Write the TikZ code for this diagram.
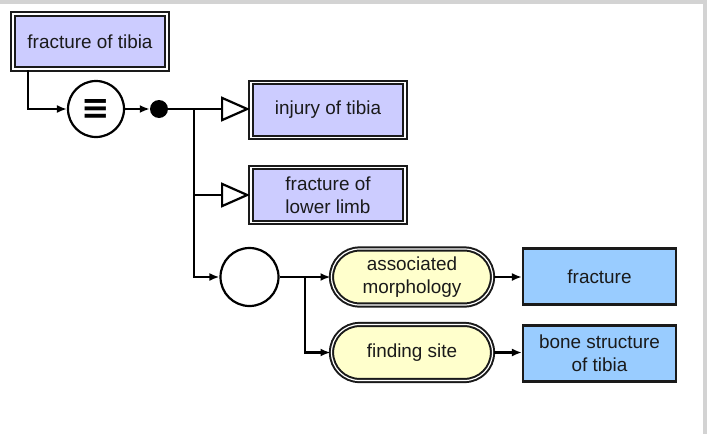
\documentclass[tikz,border=0pt]{standalone}
\usepackage{fontspec}
\setmainfont{Liberation Sans}
\newfontfamily\symfont{DejaVu Sans}
\usetikzlibrary{arrows.meta,shapes.misc}
\definecolor{lav}{HTML}{CCCCFF}
\definecolor{pale}{HTML}{FFFFCC}
\definecolor{sky}{HTML}{99CCFF}
\definecolor{frame}{HTML}{D3D3D3}
\definecolor{ink}{HTML}{1A1A1A}
\begin{document}
\begin{tikzpicture}[x=1pt,y=-1pt,
  txt/.style={font=\fontsize{18.9}{23}\selectfont, text=ink, align=center, inner sep=0pt},
  concept/.style={txt, rectangle, fill=lav, draw=ink, double=white, double distance=1.2pt, line width=2pt, minimum width=154pt, minimum height=55pt},
  role/.style={txt, rounded rectangle, fill=pale, draw=ink, double=white, double distance=1.2pt, line width=2pt, minimum width=161pt, minimum height=56pt},
  value/.style={txt, rectangle, fill=sky, draw=ink, line width=2.2pt, minimum width=153pt, minimum height=56pt},
  conn/.style={line width=2.2pt, draw=black},
  arr/.style={conn, -{Latex[length=10pt,width=8pt]}},
  isa/.style={conn, -{Triangle[open, length=29pt, width=25pt, line width=2.2pt]}},
]
\useasboundingbox (0,0) rectangle (707,434);
\fill[frame] (0,0) rectangle (707,4);
\fill[frame] (703,0) rectangle (707,434);

\node[concept] (ft) at (90,41.5) {fracture of tibia};
\node[circle, draw=black, line width=2.2pt, minimum size=56pt, inner sep=0pt, fill=white] (eq) at (96,109) {\symfont\bfseries\fontsize{34}{34}\selectfont ≡};
\node[circle, fill=black, minimum size=18pt, inner sep=0pt] (dot) at (159,109) {};
\node[concept] (inj) at (328,110) {injury of tibia};
\node[concept] (ll) at (328,195) {fracture of\\lower limb};
\node[circle, draw=black, line width=2.2pt, minimum size=58pt, inner sep=0pt, fill=white] (grp) at (249.5,277) {};
\node[role] (am) at (412,277) {associated\\morphology};
\node[role] (fs) at (412,352.5) {finding site};
\node[value] (fr) at (599.5,276.5) {fracture};
\node[value] (bs) at (599.5,353.5) {bone structure\\of tibia};

\coordinate (j1) at (194,109);
\coordinate (j2) at (305,277);

\draw[arr] ([xshift=16pt]ft.south west) |- (eq.west);
\draw[arr] (eq.east) -- (dot.west);
\draw[isa] (dot.east) -- (inj.west |- dot.east);
\draw[isa] (j1) |- (ll.west);
\draw[arr] (j1) |- (grp.west);
\draw[arr] (grp.east) -- (am.west);
\draw[arr] (j2) |- (fs.west);
\draw[arr] (am.east) -- (fr.west |- am.east);
\draw[arr] (fs.east) -- (bs.west |- fs.east);
\end{tikzpicture}
\end{document}
